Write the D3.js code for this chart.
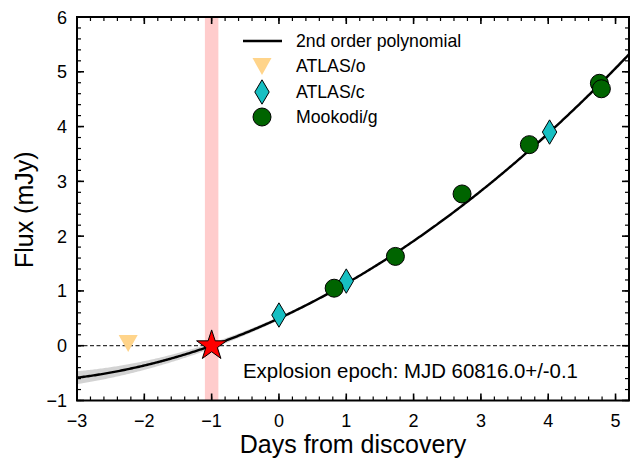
<!DOCTYPE html>
<html>
<head>
<meta charset="utf-8">
<script src="https://cdn.jsdelivr.net/npm/d3@7"></script>
<style>
  html, body { margin: 0; padding: 0; background: #fff; }
  svg { display: block; font-family: "Liberation Sans", Arial, Helvetica, sans-serif; }
</style>
</head>
<body>
<svg id="chart" width="630" height="463"></svg>
<script>
// Photometry (days from discovery, flux in mJy)
const mookodiDays = [0.82, 1.73, 2.72, 3.72, 4.76, 4.79];
const mookodiFlux = [1.05, 1.63, 2.77, 3.67, 4.79, 4.69];
const atlasCDays = [0.0, 1.0, 4.02];
const atlasCFlux = [0.56, 1.18, 3.90];
const atlasODays = [-2.24];
const atlasOFlux = [0.05];

// 2nd order polynomial fit: F = A*(t - t0)^2 + B*(t - t0)
const explosionDay = -1.0;
const explosionErr = 0.1;
const polyA = 0.069;
const polyB = 0.43;
// 1-sigma band of the fit about the data centroid
const bandCentre = 2.4;
const bandVar0 = 0.0004;
const bandVar4 = 1.6e-5;

const xTicks = [-3, -2, -1, 0, 1, 2, 3, 4, 5];
const yTicks = [-1, 0, 1, 2, 3, 4, 5, 6];
const legendLabels = ["2nd order polynomial", "ATLAS/o", "ATLAS/c", "Mookodi/g"];
const epochLabel = "Explosion epoch: MJD 60816.0+/-0.1";

const colOrange = "#ffd48a";
const colCyan = "#17bfc2";
const colGreen = "#006400";

const svg = d3.select("#chart");
const L = 77, R = 629, T = 17, B = 400.5;

const x = d3.scaleLinear().domain([-3, 5.2]).range([L, R]);
const y = d3.scaleLinear().domain([-1, 6]).range([B, T]);

const poly = t => polyA * (t - explosionDay) ** 2 + polyB * (t - explosionDay);
const sigma = t => Math.sqrt(bandVar0 + bandVar4 * (t - bandCentre) ** 4);

svg.append("defs").append("clipPath").attr("id", "plotClip")
  .append("rect").attr("x", L).attr("y", T).attr("width", R - L).attr("height", B - T);

const plot = svg.append("g").attr("clip-path", "url(#plotClip)");

// explosion epoch window
plot.append("rect")
  .attr("x", x(explosionDay - explosionErr))
  .attr("width", x(explosionDay + explosionErr) - x(explosionDay - explosionErr))
  .attr("y", T).attr("height", B - T)
  .attr("fill", "#ffcccc");

// zero flux line
plot.append("line")
  .attr("x1", L).attr("x2", R).attr("y1", y(0)).attr("y2", y(0))
  .attr("stroke", "#000").attr("stroke-width", 1).attr("stroke-dasharray", "4,2.5");

const ts = d3.range(0, 401).map(i => -3 + i * 8.2 / 400);

plot.append("path")
  .datum(ts)
  .attr("d", d3.area().x(t => x(t)).y0(t => y(poly(t) - sigma(t))).y1(t => y(poly(t) + sigma(t))))
  .attr("fill", "#c8c8c8").attr("opacity", 0.8);

plot.append("path")
  .datum(ts)
  .attr("d", d3.line().x(t => x(t)).y(t => y(poly(t))))
  .attr("fill", "none").attr("stroke", "#000").attr("stroke-width", 2.4);

// marker shapes
const triDown = (s) => `M${-s},${-s * 0.85}L${s},${-s * 0.85}L0,${s * 0.95}Z`;
const thinDiamond = (w, h) => `M0,${-h}L${w},0L0,${h}L${-w},0Z`;

plot.selectAll(".atlasO").data(d3.range(atlasODays.length)).join("path")
  .attr("transform", i => `translate(${x(atlasODays[i])},${y(atlasOFlux[i])})`)
  .attr("d", triDown(9.5)).attr("fill", colOrange);

plot.selectAll(".atlasC").data(d3.range(atlasCDays.length)).join("path")
  .attr("transform", i => `translate(${x(atlasCDays[i])},${y(atlasCFlux[i])})`)
  .attr("d", thinDiamond(7.2, 12.2)).attr("fill", colCyan)
  .attr("stroke", "#000").attr("stroke-width", 1);

plot.selectAll(".mook").data(d3.range(mookodiDays.length)).join("circle")
  .attr("cx", i => x(mookodiDays[i])).attr("cy", i => y(mookodiFlux[i]))
  .attr("r", 9).attr("fill", colGreen).attr("stroke", "#000").attr("stroke-width", 1);

// explosion marker
plot.append("path")
  .attr("transform", `translate(${x(explosionDay)},${y(0)})`)
  .attr("d", d3.symbol().type(d3.symbolStar).size(280)())
  .attr("fill", "#ff0000").attr("stroke", "#000").attr("stroke-width", 1);

// frame and ticks
const minorX = d3.range(-3, 5.21, 0.2).map(v => +v.toFixed(2));
const minorY = d3.range(-1, 6.01, 0.2).map(v => +v.toFixed(2));
const axes = svg.append("g");
const tickStyle = (sel, w) => sel.attr("stroke", "#000").attr("stroke-width", w);

function addTicks(vals, major, horizontal) {
  const len = major ? 7 : 4, w = major ? 1.6 : 1.2;
  vals.forEach(v => {
    if (horizontal) {
      tickStyle(axes.append("line").attr("x1", x(v)).attr("x2", x(v)).attr("y1", B).attr("y2", B - len), w);
      tickStyle(axes.append("line").attr("x1", x(v)).attr("x2", x(v)).attr("y1", T).attr("y2", T + len), w);
    } else {
      tickStyle(axes.append("line").attr("y1", y(v)).attr("y2", y(v)).attr("x1", L).attr("x2", L + len), w);
      tickStyle(axes.append("line").attr("y1", y(v)).attr("y2", y(v)).attr("x1", R).attr("x2", R - len), w);
    }
  });
}
addTicks(minorX, false, true);
addTicks(xTicks, true, true);
addTicks(minorY, false, false);
addTicks(yTicks, true, false);

axes.append("rect").attr("x", L).attr("y", T).attr("width", R - L).attr("height", B - T)
  .attr("fill", "none").attr("stroke", "#000").attr("stroke-width", 2);

const fmt = v => (v < 0 ? "\u2212" + Math.abs(v) : String(v));

svg.append("g").selectAll("text").data(xTicks).join("text")
  .attr("x", v => x(v)).attr("y", 427).attr("text-anchor", "middle")
  .attr("font-size", 18).text(fmt);

svg.append("g").selectAll("text").data(yTicks).join("text")
  .attr("x", 67).attr("y", v => y(v) + 6.5).attr("text-anchor", "end")
  .attr("font-size", 18).text(fmt);

svg.append("text").attr("x", (L + R) / 2).attr("y", 453).attr("text-anchor", "middle")
  .attr("font-size", 25).text("Days from discovery");

svg.append("text").attr("transform", `translate(33,${(T + B) / 2 + 1}) rotate(-90)`)
  .attr("text-anchor", "middle").attr("font-size", 25).text("Flux (mJy)");

svg.append("text").attr("x", 243).attr("y", 378).attr("font-size", 20.4).text(epochLabel);

// legend
const leg = svg.append("g");
const rowsY = [41, 66, 92, 117];
const mx = 262;
leg.append("line").attr("x1", 243).attr("x2", 282).attr("y1", rowsY[0]).attr("y2", rowsY[0])
  .attr("stroke", "#000").attr("stroke-width", 2.4);
leg.append("path").attr("transform", `translate(${mx},${rowsY[1]})`).attr("d", triDown(9.5)).attr("fill", colOrange);
leg.append("path").attr("transform", `translate(${mx},${rowsY[2]})`).attr("d", thinDiamond(7.2, 12.2))
  .attr("fill", colCyan).attr("stroke", "#000").attr("stroke-width", 1);
leg.append("circle").attr("cx", mx).attr("cy", rowsY[3]).attr("r", 9)
  .attr("fill", colGreen).attr("stroke", "#000").attr("stroke-width", 1);
leg.selectAll("text.lab").data(legendLabels).join("text")
  .attr("x", 296).attr("y", (d, i) => rowsY[i] + 6).attr("font-size", 17.7).text(d => d);
</script>
</body>
</html>
